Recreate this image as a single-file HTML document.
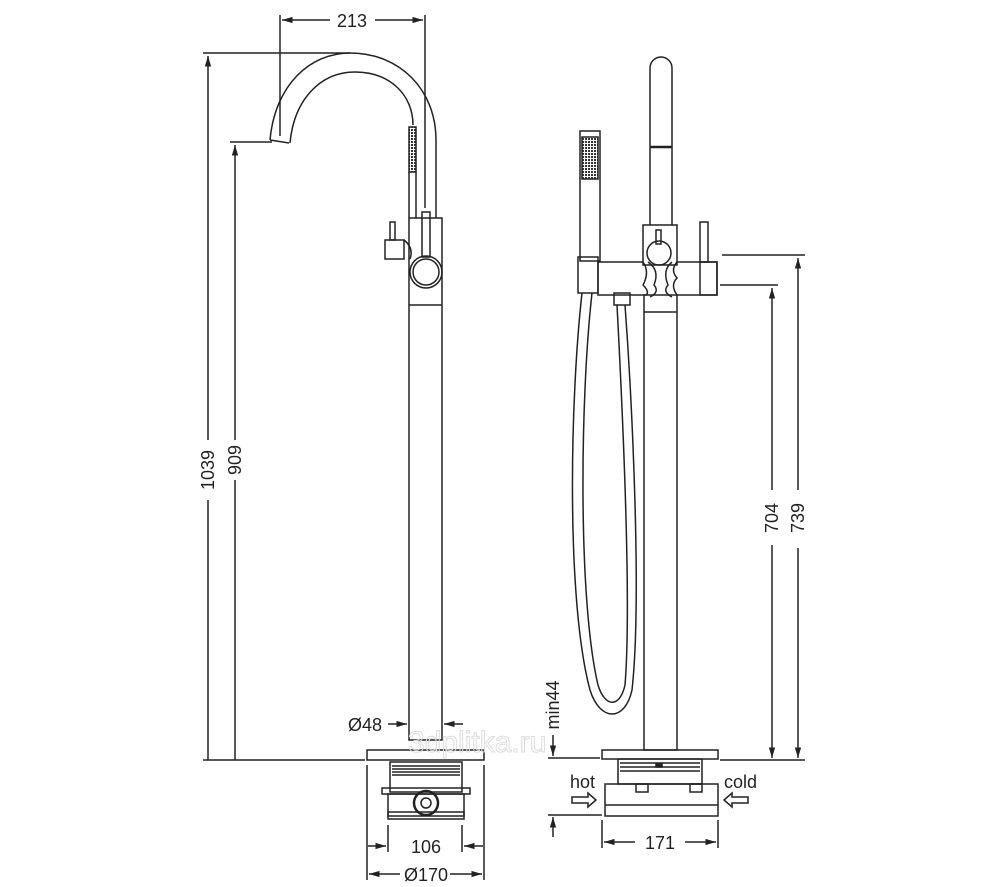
<!DOCTYPE html>
<html><head><style>body{margin:0;background:#fff}svg{display:block}text{font-family:"Liberation Sans",Arial,sans-serif;fill:#222}</style></head>
<body>
<svg width="1000" height="887" viewBox="0 0 1000 887" xmlns="http://www.w3.org/2000/svg">
<defs>
<marker id="a" viewBox="0 0 10 10" refX="10" refY="5" markerWidth="9" markerHeight="7" orient="auto-start-reverse"><path d="M0,2 L10,5 L0,8 Z" fill="#222"/></marker>
<pattern id="d" width="3" height="3" patternUnits="userSpaceOnUse"><rect width="3" height="3" fill="#fff"/><rect width="2" height="2" fill="#333"/></pattern>
</defs>
<g fill="none" stroke="#222" stroke-width="1.5">
<line x1="280" y1="15" x2="280" y2="136"/><line x1="425" y1="15" x2="425" y2="208"/>
<line x1="282" y1="20" x2="330" y2="20" marker-start="url(#a)"/><line x1="375" y1="20" x2="423" y2="20" marker-end="url(#a)"/>
<line x1="203" y1="53" x2="350" y2="53"/><line x1="230" y1="142" x2="272" y2="142"/>
<line x1="203" y1="760" x2="365" y2="760"/>
<line x1="208" y1="56" x2="208" y2="440" marker-start="url(#a)"/><line x1="208" y1="500" x2="208" y2="760"/>
<line x1="235" y1="145" x2="235" y2="440" marker-start="url(#a)"/><line x1="235" y1="480" x2="235" y2="760"/>
<path d="M270 140 C275 85 310 53 350 53 C400 53 436 90 436 140 L436 218"/>
<path d="M290 143 C294 100 320 72 355 72 C390 72 413 95 413 125"/>
<path d="M270 140 L289 143"/>
<rect x="409" y="127" width="7" height="45" fill="url(#d)"/>
<line x1="409" y1="172" x2="409" y2="218"/><line x1="416" y1="172" x2="416" y2="218"/>
<rect x="409" y="218" width="33" height="522"/>
<line x1="409" y1="305" x2="442" y2="305"/>
<circle cx="426" cy="272" r="16"/><circle cx="426" cy="272" r="13"/>
<rect x="422" y="212" width="8" height="45"/>
<rect x="385" y="240" width="19" height="19"/><rect x="390" y="222" width="5" height="18"/>
<path d="M404 240 Q414 248 410 259"/>
<rect x="367" y="750" width="117" height="10"/>
<rect x="390" y="762" width="72" height="30"/>
<line x1="392" y1="766" x2="460" y2="766"/><line x1="392" y1="769" x2="460" y2="769"/><line x1="392" y1="772" x2="460" y2="772"/><line x1="392" y1="775" x2="460" y2="775"/>
<rect x="382" y="788" width="88" height="6"/>
<rect x="388" y="794" width="76" height="22"/>
<rect x="388" y="812" width="76" height="7"/>
<circle cx="426" cy="803" r="12" stroke-width="2.5"/><circle cx="426" cy="803" r="5"/>
<line x1="388" y1="724" x2="407" y2="724" marker-end="url(#a)"/><line x1="463" y1="724" x2="444" y2="724" marker-end="url(#a)"/>
<line x1="388" y1="825" x2="388" y2="852"/><line x1="462" y1="825" x2="462" y2="852"/>
<line x1="367" y1="765" x2="367" y2="880"/><line x1="484" y1="765" x2="484" y2="880"/>
<line x1="368" y1="846" x2="386" y2="846" marker-end="url(#a)"/><line x1="483" y1="846" x2="464" y2="846" marker-end="url(#a)"/>
<line x1="369" y1="874" x2="400" y2="874" marker-start="url(#a)"/><line x1="450" y1="874" x2="482" y2="874" marker-end="url(#a)"/>

<path d="M650 225 L650 68 A11 11 0 0 1 672 68 L672 225"/>
<line x1="650" y1="147" x2="672" y2="147" stroke-width="2.5"/>
<rect x="643" y="225" width="34" height="40"/>
<circle cx="659" cy="253" r="12"/><rect x="656" y="230" width="5" height="14"/>
<path d="M598 262 L643 262 Q650 272 643 285 Q650 292 646 295 L598 295 Z"/>
<path d="M677 262 L717 262 L717 295 L677 295 Q670 285 677 278 Q670 270 677 262"/>
<path d="M648 262 Q660 270 654 285 Q660 292 650 297"/>
<path d="M672 262 Q662 270 668 285 Q662 292 672 297"/>
<rect x="644" y="295" width="33" height="455"/>
<line x1="644" y1="312" x2="677" y2="312"/>
<rect x="700" y="222" width="8" height="40"/><rect x="700" y="262" width="17" height="33"/>
<rect x="580" y="131" width="20" height="130"/>
<rect x="582" y="137" width="16" height="42" fill="url(#d)"/>
<rect x="578" y="257" width="20" height="36"/>
<path d="M582 293 C570 400 566 600 590 690 C600 722 625 722 632 690 C642 600 632 400 625 305"/>
<path d="M592 293 C580 400 578 600 598 685 C605 708 620 708 625 685 C632 600 622 400 617 305"/>
<rect x="614" y="293" width="16" height="12"/>
<rect x="602" y="750" width="116" height="9"/>
<rect x="618" y="759" width="84" height="25"/>
<line x1="620" y1="763" x2="700" y2="763"/><line x1="620" y1="767" x2="700" y2="767"/><line x1="620" y1="771" x2="700" y2="771"/>
<rect x="656" y="764" width="6" height="3" fill="#222"/>
<rect x="605" y="784" width="113" height="32"/>
<line x1="605" y1="805" x2="718" y2="805"/>
<rect x="636" y="784" width="12" height="8"/><rect x="690" y="784" width="12" height="8"/>
<line x1="722" y1="255" x2="805" y2="255"/><line x1="720" y1="285" x2="778" y2="285"/>
<line x1="720" y1="760" x2="805" y2="760"/>
<line x1="772" y1="288" x2="772" y2="490" marker-start="url(#a)"/><line x1="772" y1="545" x2="772" y2="758" marker-end="url(#a)"/>
<line x1="798" y1="258" x2="798" y2="490" marker-start="url(#a)"/><line x1="798" y1="548" x2="798" y2="758" marker-end="url(#a)"/>
<line x1="548" y1="758" x2="600" y2="758"/><line x1="548" y1="815" x2="602" y2="815"/>
<line x1="553" y1="735" x2="553" y2="756" marker-end="url(#a)"/><line x1="553" y1="837" x2="553" y2="817" marker-end="url(#a)"/>
<line x1="602" y1="820" x2="602" y2="848"/><line x1="718" y1="820" x2="718" y2="848"/>
<line x1="604" y1="842" x2="635" y2="842" marker-start="url(#a)"/><line x1="685" y1="842" x2="716" y2="842" marker-end="url(#a)"/>
<path d="M572 797 L588 797 L588 793 L596 800 L588 807 L588 803 L572 803 Z"/>
<path d="M748 797 L732 797 L732 793 L724 800 L732 807 L732 803 L748 803 Z"/>
</g>
<g font-size="18">
<text x="352" y="27" text-anchor="middle">213</text>
<text transform="translate(214,470) rotate(-90)" text-anchor="middle">1039</text>
<text transform="translate(241,460) rotate(-90)" text-anchor="middle">909</text>
<text x="348" y="731">Ø48</text>
<text x="426" y="853" text-anchor="middle">106</text>
<text x="426" y="881" text-anchor="middle">Ø170</text>
<text transform="translate(778,518) rotate(-90)" text-anchor="middle">704</text>
<text transform="translate(804,518) rotate(-90)" text-anchor="middle">739</text>
<text transform="translate(559,705) rotate(-90)" text-anchor="middle">min44</text>
<text x="660" y="849" text-anchor="middle">171</text>
<text x="570" y="788">hot</text>
<text x="724" y="788">cold</text>
</g>
<text x="408" y="752" font-size="30" style="fill:none;stroke:#ddd;stroke-width:1">3dplitka.ru</text>
</svg>
</body></html>
